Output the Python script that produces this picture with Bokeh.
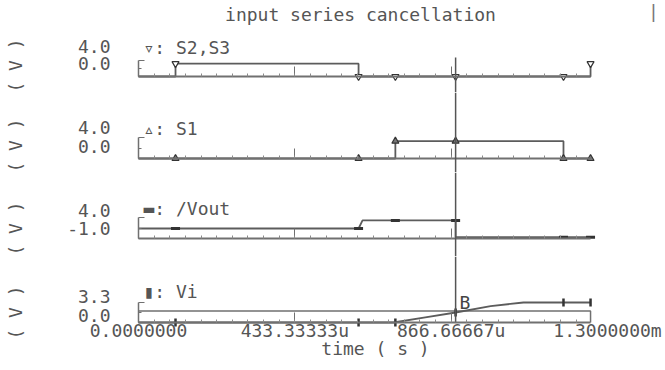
import math
from bokeh.plotting import figure
from bokeh.layouts import column
from bokeh.models import (Range1d, LinearAxis, FixedTicker, Label, Span,
                          CustomJSTickFormatter)
from bokeh.embed import file_html
from bokeh.resources import INLINE

# ---------------- data ----------------
title_text = "input series cancellation"
x_start = 0.0
x_end = 1.3e-3
major_ticks = [0.0, 433.33333e-6, 866.66667e-6, 1.3e-3]
major_tick_labels = ["0.0000000", "433.33333u", "866.66667u", "1.3000000m"]
minor_step = 43.333333e-6
t_stop = 1.253e-3
cursor_time = 0.879e-3
cursor_top_s23 = 4.9

s23_t = [0.0, 0.1026e-3, 0.1026e-3, 0.610e-3, 0.610e-3, 1.253e-3, 1.253e-3]
s23_v = [0.0, 0.0, 3.3, 3.3, 0.0, 0.0, 3.3]
s1_t = [0.0, 0.712e-3, 0.712e-3, 1.178e-3, 1.178e-3, 1.253e-3]
s1_v = [0.0, 0.0, 3.3, 3.3, 0.0, 0.0]
vout_t = [0.0, 0.610e-3, 0.621e-3, 0.879e-3, 0.879e-3, 1.253e-3]
vout_v = [1.38, 1.38, 3.3, 3.3, -0.7, -0.7]
vi_t = [0.0, 0.707e-3, 0.795e-3, 0.879e-3, 0.976e-3, 1.067e-3, 1.253e-3]
vi_v = [0.0, 0.0, 0.85, 1.65, 2.7, 3.3, 3.3]
vilevel_t = [0.0, 1.253e-3, 1.253e-3]
vilevel_v = [1.9, 1.9, 0.0]

marker_t = [0.1026e-3, 0.610e-3, 0.712e-3, 0.879e-3, 1.178e-3, 1.253e-3]
s23_mk = [3.3, 0.0, 0.0, 0.0, 0.0, 3.3]
s1_mk = [0.0, 0.0, 3.3, 3.3, 0.0, 0.0]
vout_mk = [1.38, 1.38, 3.3, 3.3, -0.7, -0.7]
vi_mk = [0.0, 0.0, 0.0, 1.65, 3.3, 3.3]

s23_ticks = [0.0, 4.0]
s1_ticks = [0.0, 4.0]
vout_ticks = [-1.0, 4.0]
vi_ticks = [0.0, 3.3]
s23_tick_labels = ["0.0", "4.0"]
s1_tick_labels = ["0.0", "4.0"]
vout_tick_labels = ["-1.0", "4.0"]
vi_tick_labels = ["0.0", "3.3"]

# ---------------- style / layout ----------------
FONT = "DejaVu Sans Mono"
FS = "18px"
TXT = "#555555"
LINE = "#5c5c5c"
AXC = "#707070"
CUR = "#555555"
W = 665
PX0 = 138        # pixel of t = 0
PX_END = 607     # pixel of t = 1.3m
scale = (x_end - x_start) / (PX_END - PX0)
xr = Range1d(x_start - PX0 * scale, x_start + (W - PX0) * scale)
minor_list = [k * minor_step for k in range(1, 29)]


class Panel:
    def __init__(self, top, bottom, base_px, base_val, ppu, yticks):
        self.top, self.bottom = top, bottom
        y0 = base_val - (bottom - base_px) / ppu
        y1 = base_val + (base_px - top) / ppu
        p = figure(width=W, height=bottom - top, x_range=xr,
                   y_range=Range1d(y0, y1), output_backend="svg",
                   toolbar_location=None, min_border=0,
                   x_axis_type=None, y_axis_type=None, title=None)
        p.outline_line_color = None
        p.background_fill_color = "white"
        p.border_fill_color = "white"
        self.p = p

        xa = LinearAxis(fixed_location=base_val,
                        ticker=FixedTicker(ticks=major_ticks[:3], minor_ticks=minor_list),
                        bounds=(x_start, t_stop),
                        major_tick_in=10, major_tick_out=0,
                        minor_tick_in=3, minor_tick_out=0,
                        major_label_text_font_size="0px", major_label_text_color=None,
                        major_label_standoff=0,
                        axis_line_color=AXC, axis_line_width=2,
                        major_tick_line_color=AXC, minor_tick_line_color="#8a8a8a")
        p.add_layout(xa, "below")

        ya = LinearAxis(fixed_location=x_start,
                        ticker=FixedTicker(ticks=yticks,
                                           minor_ticks=[(yticks[0] + yticks[1]) / 2]),
                        bounds=(yticks[0], yticks[1]),
                        major_tick_in=6, major_tick_out=0,
                        minor_tick_in=3, minor_tick_out=0,
                        major_label_text_font_size="0px", major_label_text_color=None,
                        major_label_standoff=0,
                        axis_line_color=AXC, axis_line_width=1.5,
                        major_tick_line_color=AXC, minor_tick_line_color=AXC)
        p.add_layout(ya, "left")

    def label(self, px, py, text, align="left", angle=0.0, color=TXT):
        # px, py: page pixel position of the text centre line
        self.p.add_layout(Label(x=px, y=self.bottom - py, x_units="screen",
                                y_units="screen", text=text, text_align=align,
                                text_baseline="middle", angle=angle,
                                text_font=FONT, text_font_size=FS,
                                text_color=color))

    def decorate(self, tick_labels, tick_py, legend, legend_py, vlabel_py):
        for t, py in zip(tick_labels, tick_py):
            self.label(110, py, t, align="right")
        self.label(143, legend_py, legend)
        self.label(15, vlabel_py, "( V )", align="center", angle=math.pi / 2)


# Panel 1: S2,S3
P1 = Panel(0, 92, 76, 0.0, 3.9, s23_ticks)
P1.decorate(s23_tick_labels, [63, 46], "\u25bf: S2,S3", 47, 65)
P1.label(360, 14, title_text, align="center")
P1.label(653, 11, "|", align="center", color="#777777")
p1 = P1.p
p1.line(s23_t, s23_v, line_color=LINE, line_width=1.8)
p1.scatter(marker_t, s23_mk, marker="inverted_triangle", size=7,
           fill_color="white", line_color="#333333", line_width=1.2)
p1.segment(x0=[cursor_time], y0=[p1.y_range.start], x1=[cursor_time],
           y1=[cursor_top_s23], line_color=CUR, line_width=1.5)

# Panel 2: S1
P2 = Panel(92, 172, 158, 0.0, 5.25, s1_ticks)
P2.decorate(s1_tick_labels, [146, 127], "\u25b5: S1", 128, 145)
p2 = P2.p
p2.line(s1_t, s1_v, line_color=LINE, line_width=1.8)
p2.scatter(marker_t, s1_mk, marker="triangle", size=7,
           fill_color="#777777", line_color="#333333", line_width=1.2)
p2.add_layout(Span(location=cursor_time, dimension="height",
                   line_color=CUR, line_width=1.5))

# Panel 3: /Vout
P3 = Panel(172, 256, 238, -1.0, 4.2, vout_ticks)
P3.decorate(vout_tick_labels, [228, 210], "\u25ac: /Vout", 208, 228)
p3 = P3.p
p3.line(vout_t, vout_v, line_color=LINE, line_width=1.8)
p3.scatter(marker_t, vout_mk, marker="dash", size=9,
           line_color="#333333", line_width=3)
p3.add_layout(Span(location=cursor_time, dimension="height",
                   line_color=CUR, line_width=1.5))

# Panel 4: Vi (with time axis)
P4 = Panel(256, 366, 322, 0.0, 6.06, vi_ticks)
P4.decorate(vi_tick_labels, [315, 296], "\u25ae: Vi", 291, 312)
P4.label(375, 348, "time ( s )", align="center")
p4 = P4.p
p4.line(vilevel_t, vilevel_v, line_color=AXC, line_width=1.5)
p4.line(vi_t, vi_v, line_color=LINE, line_width=1.8)
p4.scatter(marker_t, vi_mk, marker="dash", angle=math.pi / 2, size=8,
           line_color="#333333", line_width=2.5)
p4.segment(x0=[cursor_time], y0=[0.0], x1=[cursor_time], y1=[p4.y_range.end],
           line_color=CUR, line_width=1.5)
p4.add_layout(Label(x=cursor_time, y=vi_mk[3], x_offset=4, y_offset=0,
                    text="B", text_align="left", text_baseline="bottom",
                    text_font=FONT, text_font_size=FS, text_color="#444444"))

fmt = CustomJSTickFormatter(args=dict(tvals=major_ticks, tlabels=major_tick_labels), code="""
let best = 0;
for (let i = 0; i < tvals.length; i++) {
  if (Math.abs(tvals[i] - tick) < Math.abs(tvals[best] - tick)) best = i;
}
return tlabels[best];
""")
lab_axis = LinearAxis(fixed_location=0.0,
                      ticker=FixedTicker(ticks=major_ticks, minor_ticks=[]),
                      formatter=fmt, axis_line_color=None,
                      major_tick_line_color=None, minor_tick_line_color=None,
                      major_tick_in=0, major_tick_out=0,
                      major_label_text_font=FONT, major_label_text_font_size=FS,
                      major_label_text_color=TXT, major_label_standoff=-3)
p4.add_layout(lab_axis, "below")

layout = column(p1, p2, p3, p4, spacing=0)
open("out.html", "w").write(file_html(layout, INLINE))
